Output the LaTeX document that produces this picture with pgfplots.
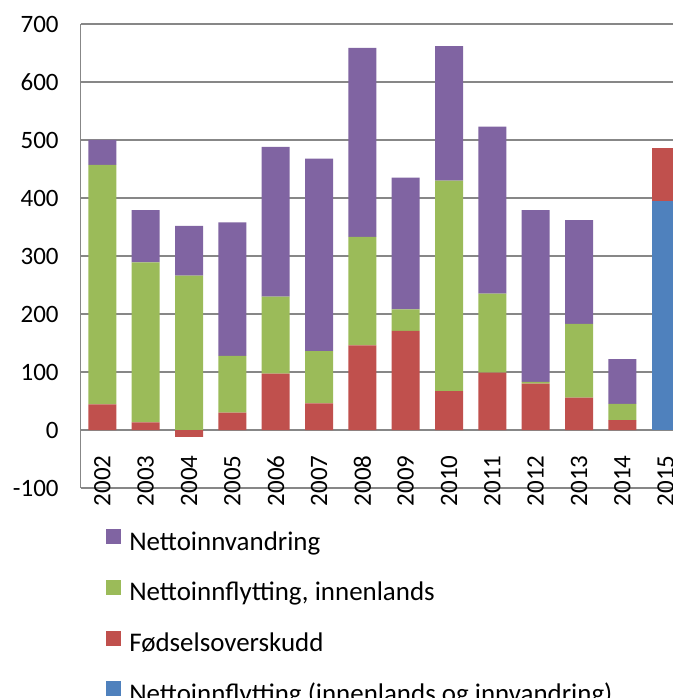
\documentclass[border=0pt]{standalone}
\usepackage{pgfplots}
\usepackage{pgfplotstable}
\pgfplotsset{compat=1.18}
\usepackage{fontspec}
\setmainfont{Carlito}
\definecolor{purp}{HTML}{8064A2}
\definecolor{grn}{HTML}{9BBB59}
\definecolor{rd}{HTML}{C0504D}
\definecolor{blu}{HTML}{4F81BD}
\definecolor{gridgray}{HTML}{878787}
\pgfplotstableread{
x red green purple blue redtop
0 44 413 43 0 0
1 13 276 90 0 0
2 -12 266 86 0 0
3 30 98 230 0 0
4 97 133 258 0 0
5 46 90 332 0 0
6 146 187 326 0 0
7 171 37 227 0 0
8 67 363 232 0 0
9 99 136 288 0 0
10 80 3 296 0 0
11 56 127 179 0 0
12 17 28 77 0 0
13 0 0 0 395 91
}\data
\begin{document}
\begin{tikzpicture}
\path[use as bounding box] (-60.5pt,-157.5pt) rectangle (444.2pt,366pt);
\clip (-60.5pt,-157.5pt) rectangle (444.2pt,366pt);
\begin{axis}[
  at={(0,0)}, anchor=south west,
  scale only axis, width=455pt, height=348pt,
  ybar stacked, bar width=21pt,
  enlargelimits=false,
  xmin=-0.5, xmax=13.5, ymin=-100, ymax=700,
  ytick={-100,0,100,200,300,400,500,600,700},
  xtick={0,1,2,3,4,5,6,7,8,9,10,11,12,13},
  xticklabels={2002,2003,2004,2005,2006,2007,2008,2009,2010,2011,2012,2013,2014,2015},
  /pgf/number format/assume math mode=true,
  major tick length=0pt,
  axis lines*=left,
  axis line style={gridgray, line width=1pt},
  ymajorgrids,
  grid style={gridgray, line width=1pt},
  ticklabel style={font=\fontsize{18.75}{22}\selectfont},
  yticklabel style={xshift=-13pt},
  xticklabel style={yshift=28pt, rotate=90, anchor=east},
  legend image code/.code={\path (0pt,-4pt) (0pt,13pt); \path[#1] (0pt,0pt) rectangle (11.25pt,11.25pt); \path (17.25pt,0pt);},
  legend cell align=left,
  legend style={at={(axis description cs:0,0)}, anchor=north west,
    xshift=19pt, yshift=-29pt, draw=none, fill=none, inner sep=0pt,
    row sep=16.5pt,
    nodes={inner sep=0pt, text height=13pt, text depth=4pt},
    font=\fontsize{20.2}{24}\selectfont},
]
\addlegendimage{fill=purp, draw=none}
\addlegendentry{Nettoinnvandring}
\addlegendimage{fill=grn, draw=none}
\addlegendentry{Nettoinnflytting, innenlands}
\addlegendimage{fill=rd, draw=none}
\addlegendentry{Fødselsoverskudd}
\addlegendimage{fill=blu, draw=none}
\addlegendentry{Nettoinnflytting (innenlands og innvandring)}
\addplot[forget plot, fill=rd, draw=none] table[x=x, y=red] {\data};
\addplot[forget plot, fill=grn, draw=none] table[x=x, y=green] {\data};
\addplot[forget plot, fill=purp, draw=none] table[x=x, y=purple] {\data};
\addplot[forget plot, fill=blu, draw=none] table[x=x, y=blue] {\data};
\addplot[forget plot, fill=rd, draw=none] table[x=x, y=redtop] {\data};
\end{axis}
\end{tikzpicture}
\end{document}
